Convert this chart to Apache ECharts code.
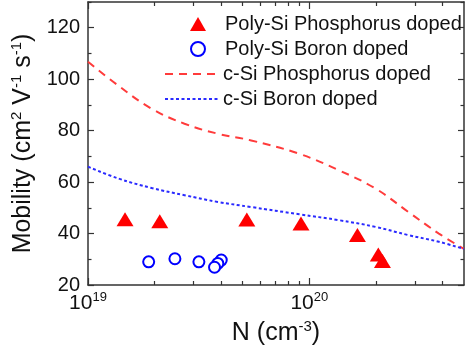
<!DOCTYPE html>
<html>
<head>
<meta charset="utf-8">
<script src="https://cdn.jsdelivr.net/npm/echarts@6/dist/echarts.min.js"></script>
<style>html,body{margin:0;padding:0;background:#fff;}#c{width:465px;height:352px;}</style>
</head>
<body>
<div id="c"></div>
<script>
// ---- data ----
var polyP_N = [1.47e19, 2.11e19, 5.22e19, 9.17e19, 1.65e20, 2.05e20, 2.14e20];
var polyP_mu = [45.6, 44.8, 45.5, 43.9, 39.4, 31.9, 29.3];
var polyB_N = [1.88e19, 2.47e19, 3.17e19, 4.0e19, 3.86e19, 3.73e19];
var polyB_mu = [29.0, 30.2, 29.0, 29.7, 28.4, 26.9];
var cSiP_N = [1e19, 1.37e19, 1.94e19, 2.73e19, 3.86e19, 5.46e19, 9.0e19, 1.36e20, 1.99e20, 2.8e20, 3.85e20, 5e20];
var cSiP_mu = [106.8, 97.5, 88.5, 82.7, 78.8, 76.2, 71.0, 64.6, 57.5, 48.4, 40.0, 34.0];
var cSiB_N = [1e19, 1.37e19, 1.94e19, 2.73e19, 3.86e19, 5.46e19, 9.0e19, 1.36e20, 1.99e20, 2.8e20, 3.85e20, 5e20];
var cSiB_mu = [66.0, 61.4, 57.7, 54.9, 52.3, 50.3, 47.5, 45.2, 42.6, 39.4, 36.8, 34.0];
var xMajorTicks = [1e19, 1e20];
var xMinorTicks = [2e19, 3e19, 4e19, 5e19, 6e19, 7e19, 8e19, 9e19, 2e20, 3e20, 4e20, 5e20];
var yMajorTicks = [20, 40, 60, 80, 100, 120];
var yMinorTicks = [30, 50, 70, 90, 110, 130];
var names = ['Poly-Si Phosphorus doped', 'Poly-Si Boron doped', 'c-Si Phosphorus doped', 'c-Si Boron doped'];

function zip(a, b) { return a.map(function (v, i) { return [v, b[i]]; }); }

var FONT = 'Liberation Sans';
var AX = '#333';
var RED = '#ff0000';
var RED_LINE = '#ff3b3b';
var BLUE = '#0000ff';
var BLUE_LINE = '#2a2aff';
var chart = echarts.init(document.getElementById('c'), null, { renderer: 'canvas' });

function xAx(pos, ticks, len, showLine, showLabel, name) {
  return {
    type: 'log', logBase: 10, min: 1e19, max: 5e20, position: pos,
    gridIndex: 0,
    axisLine: { show: showLine, onZero: false, lineStyle: { color: AX, width: 1.5 } },
    axisTick: { show: true, inside: true, length: len, customValues: ticks, lineStyle: { color: AX, width: 1.2 } },
    axisLabel: {
      show: showLabel, customValues: xMajorTicks, margin: 6,
      formatter: function (v) { return '{b|10}{s|' + Math.round(Math.log10(v)) + '}'; },
      rich: {
        b: { fontFamily: FONT, fontSize: 21, color: '#111' },
        s: { fontFamily: FONT, fontSize: 13, color: '#111', padding: [0, 0, 12, 0] }
      }
    },
    minorTick: { show: false },
    splitLine: { show: false },
    name: name || '', nameLocation: 'middle', nameGap: 33,
    nameTextStyle: {
      rich: {
        t: { fontFamily: FONT, fontSize: 25, color: '#111' },
        s: { fontFamily: FONT, fontSize: 15, color: '#111', padding: [0, 0, 13, 0] }
      }
    }
  };
}
function yAx(pos, ticks, len, showLine, showLabel, name) {
  return {
    type: 'value', min: 20, max: 130, interval: 10, position: pos,
    axisLine: { show: showLine, onZero: false, lineStyle: { color: AX, width: 1.5 } },
    axisTick: { show: true, inside: true, length: len, customValues: ticks, lineStyle: { color: AX, width: 1.2 } },
    axisLabel: { show: showLabel, customValues: yMajorTicks, margin: 8, fontFamily: FONT, fontSize: 20, color: '#111' },
    splitLine: { show: false },
    name: name || '', nameLocation: 'middle', nameGap: 43,
    nameTextStyle: {
      rich: {
        t: { fontFamily: FONT, fontSize: 25, color: '#111' },
        s: { fontFamily: FONT, fontSize: 15, color: '#111', padding: [0, 0, 13, 0] }
      }
    }
  };
}

var hiddenSym = { color: 'rgba(255,255,255,0)', borderColor: 'rgba(255,255,255,0)', borderWidth: 0 };

var option = {
  animation: false,
  backgroundColor: '#fff',
  grid: { left: 88, right: 1, top: 2, bottom: 67, containLabel: false },
  xAxis: [
    xAx('bottom', xMajorTicks, 7, true, true, '{t|N (cm}{s|-3}{t|)}'),
    xAx('bottom', xMinorTicks, 4, false, false),
    xAx('top', xMajorTicks, 7, true, false),
    xAx('top', xMinorTicks, 4, false, false)
  ],
  yAxis: [
    yAx('left', yMajorTicks, 6, true, true, '{t|Mobility (cm}{s|2}{t| V}{s|-1}{t| s}{s|-1}{t|)}'),
    yAx('left', yMinorTicks, 3.5, false, false),
    yAx('right', yMajorTicks, 6, true, false),
    yAx('right', yMinorTicks, 3.5, false, false)
  ],
  legend: [
    {
      orient: 'vertical', left: 190, top: 14, padding: 0,
      itemWidth: 16, itemHeight: 14, itemGap: 5,
      textStyle: { fontFamily: FONT, fontSize: 20, color: '#111', lineHeight: 20, padding: [0, 0, 0, 14] },
      data: [
        { name: names[0], icon: 'triangle' },
        { name: names[1], icon: 'emptyCircle' }
      ]
    },
    {
      orient: 'vertical', left: 164, top: 64, padding: 0,
      itemWidth: 53, itemHeight: 14, itemGap: 5,
      textStyle: { fontFamily: FONT, fontSize: 20, color: '#111', lineHeight: 20 },
      data: [
        { name: names[2], itemStyle: hiddenSym },
        { name: names[3], itemStyle: hiddenSym }
      ]
    }
  ],
  series: [
    {
      name: names[0], type: 'scatter', data: zip(polyP_N, polyP_mu),
      symbol: 'triangle', symbolSize: [17, 14],
      itemStyle: { color: RED, opacity: 1 }, z: 5
    },
    {
      name: names[1], type: 'scatter', data: zip(polyB_N, polyB_mu),
      symbol: 'emptyCircle', symbolSize: 11,
      itemStyle: { color: BLUE, borderColor: BLUE, borderWidth: 2.6, opacity: 1 }, z: 5
    },
    {
      name: names[2], type: 'line', data: zip(cSiP_N, cSiP_mu), smooth: 0.4,
      symbol: 'none', showSymbol: false,
      lineStyle: { color: RED_LINE, width: 2, type: [8, 6] },
      itemStyle: { color: RED_LINE }
    },
    {
      name: names[3], type: 'line', data: zip(cSiB_N, cSiB_mu), smooth: 0.4,
      symbol: 'none', showSymbol: false,
      lineStyle: { color: BLUE_LINE, width: 2, type: [3, 2.5] },
      itemStyle: { color: BLUE_LINE }
    }
  ]
};
chart.setOption(option);
</script>
</body>
</html>
